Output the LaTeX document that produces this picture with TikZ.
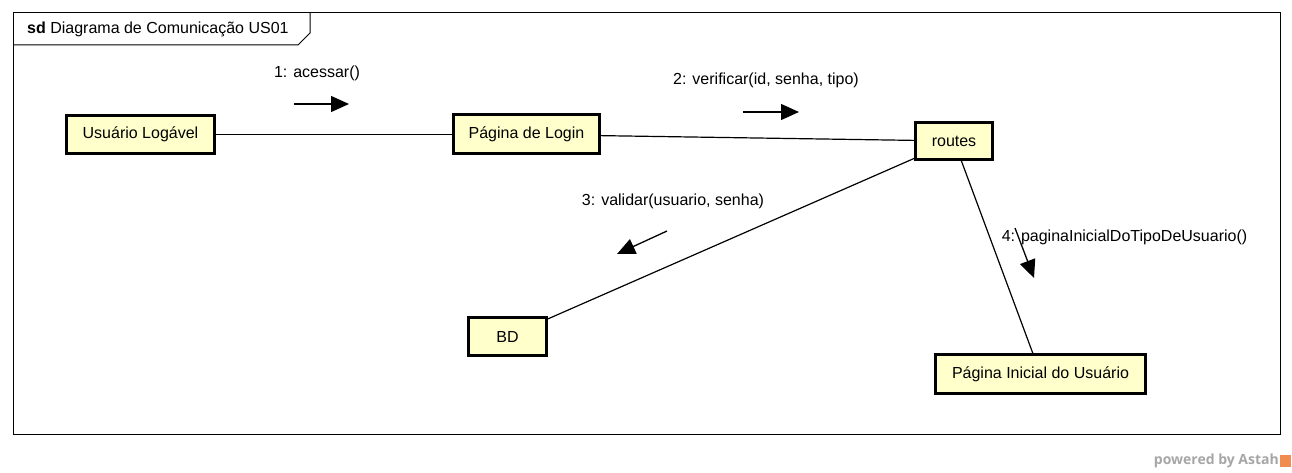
\documentclass[tikz,border=0pt]{standalone}
\usepackage{fontspec}
\setmainfont{Liberation Sans}
\newfontfamily\astahfont{Open Sans}
\usetikzlibrary{arrows.meta}
\definecolor{objyellow}{RGB}{255,255,204}
\definecolor{astahorange}{RGB}{240,140,80}

\begin{document}
\begin{tikzpicture}
    [x=1pt, y=-1pt,
     ObjNode/.style={rectangle, draw=black, line width=3pt, fill=objyellow, inner sep=0pt, font=\fontsize{16}{19}\selectfont},
     MsgArrow/.style={-{Triangle[length=18pt, width=16pt]}, line width=1.3pt},
     MsgLabel/.style={inner sep=0pt, font=\fontsize{16}{19}\selectfont}]
    \useasboundingbox (0,0) rectangle (1292,473);
    % frame
    \draw[line width=1pt] (13,13) rectangle (1280,434);
    \draw[line width=1pt] (13,45) -- (298,45) -- (310,33) -- (310,13);
    \node[anchor=west, inner sep=0pt, font=\fontsize{16}{19}\selectfont] (title) at (27,29) {\textbf{sd} Diagrama de Comunicação US01};
    % objects
    \node[ObjNode, minimum width=148pt, minimum height=38pt] (user) at (140.5,134.5) {Usuário Logável\hspace{8pt}};
    \node[ObjNode, minimum width=146pt, minimum height=39pt] (login) at (526.5,134.5) {Página de Login\hspace{6pt}};
    \node[ObjNode, minimum width=77pt, minimum height=37pt] (routes) at (954,141) {routes};
    \node[ObjNode, minimum width=78pt, minimum height=38pt] (bd) at (507.5,336.5) {BD};
    \node[ObjNode, minimum width=210pt, minimum height=39pt] (inicial) at (1040.5,374) {Página Inicial do Usuário\hspace{8pt}};
    % links
    \draw[line width=1.2pt] (user) -- (login);
    \draw[line width=1.2pt] (login) -- (routes);
    \draw[line width=1.2pt] (routes) -- (bd);
    \draw[line width=1.2pt] (routes) -- (inicial);
    % messages
    \coordinate (m1a) at (294,104);
    \coordinate (m1b) at (349,104);
    \draw[MsgArrow] (m1a) -- (m1b);
    \node[MsgLabel] (m1) at (317,73) {1: acessar()};
    \coordinate (m2a) at (743,112);
    \coordinate (m2b) at (799,112);
    \draw[MsgArrow] (m2a) -- (m2b);
    \node[MsgLabel] (m2) at (766,80) {2: verificar(id, senha, tipo)};
    \coordinate (m3a) at (667,231);
    \coordinate (m3b) at (617,254);
    \draw[MsgArrow] (m3a) -- (m3b);
    \node[MsgLabel] (m3) at (673,201) {3: validar(usuario, senha)};
    \coordinate (m4a) at (1015,228);
    \coordinate (m4b) at (1034,278);
    \draw[MsgArrow] (m4a) -- (m4b);
    \node[MsgLabel] (m4) at (1124.5,237) {4: paginaInicialDoTipoDeUsuario()};
    % powered by
    \node[anchor=east, inner sep=0pt, text=black!35, font=\astahfont\bfseries\fontsize{14}{16}\selectfont] (powered) at (1279,461) {powered by Astah};
    \fill[astahorange] (1280,455) rectangle (1291,467);
\end{tikzpicture}
\end{document}
